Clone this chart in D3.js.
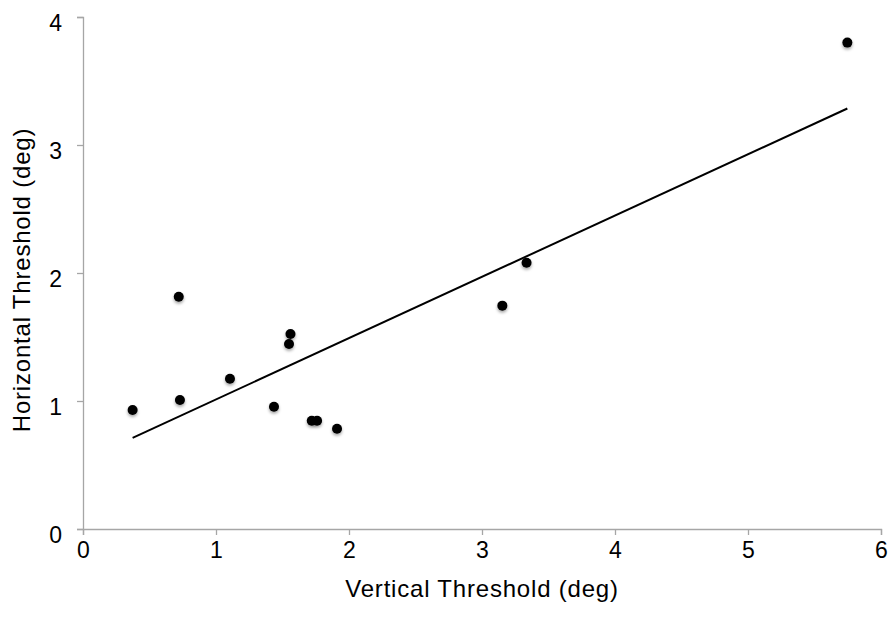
<!DOCTYPE html>
<html lang="en">
<head>
<meta charset="UTF-8">
<title>Thresholds</title>
<script src="https://cdnjs.cloudflare.com/ajax/libs/d3/7.8.5/d3.min.js"></script>
<style>
  body { margin: 0; background: #fff; }
  text { font-family: "Liberation Sans", Arial, sans-serif; fill: #000; }
</style>
</head>
<body>
<div id="chart"></div>
<script>
// data
var vertical   = [0.373, 0.729, 0.72, 1.105, 1.436, 1.56, 1.549, 1.72, 1.76, 1.91, 3.153, 3.335, 5.747];
var horizontal = [0.93, 1.008, 1.815, 1.174, 0.955, 1.523, 1.445, 0.846, 0.846, 0.783, 1.745, 2.08, 3.80];
var xTicks = [0, 1, 2, 3, 4, 5, 6];
var yTicks = [0, 1, 2, 3, 4];

var w = 896, h = 622;
// plot box (note: "top" is taken by window.top, so use other names)
var mLeft = 83, mRight = 881, mTop = 17, mBottom = 529;

var svg = d3.select("#chart").append("svg")
    .attr("width", w)
    .attr("height", h);

var x = d3.scaleLinear().domain([0, 6]).range([mLeft, mRight]);
var y = d3.scaleLinear().domain([0, 4]).range([mBottom, mTop]);

// soft shadow under the dots
var f = svg.append("defs").append("filter").attr("id", "shadow")
    .attr("x", "-50%").attr("y", "-50%").attr("width", "200%").attr("height", "200%");
f.append("feDropShadow").attr("dx", 0).attr("dy", 2).attr("stdDeviation", 1.5)
    .attr("flood-color", "#000").attr("flood-opacity", 0.35);

// axes
var xAxis = svg.append("g")
    .attr("transform", "translate(0," + mBottom + ")")
    .call(d3.axisBottom(x).tickValues(xTicks).tickSize(6).tickPadding(7).tickFormat(d3.format("d")));
var yAxis = svg.append("g")
    .attr("transform", "translate(" + mLeft + ",0)")
    .call(d3.axisLeft(y).tickValues(yTicks).tickSize(6).tickPadding(15).tickFormat(d3.format("d")));

[xAxis, yAxis].forEach(function(a) {
    a.attr("font-size", 23).attr("font-family", "Liberation Sans, Arial, sans-serif");
    a.select(".domain").attr("stroke", "#a6a6a6").attr("stroke-width", 1.3);
    a.selectAll(".tick line").attr("stroke", "#a6a6a6").attr("stroke-width", 1.3);
    a.selectAll(".tick text").attr("fill", "#000");
});
yAxis.selectAll(".tick text").attr("dy", "0.6em");

// least squares trend line
var pts = vertical.map(function(v, i) { return [v, horizontal[i]]; });
var mx = d3.mean(vertical), my = d3.mean(horizontal);
var sxy = d3.sum(pts, function(p) { return (p[0] - mx) * (p[1] - my); });
var sxx = d3.sum(pts, function(p) { return (p[0] - mx) * (p[0] - mx); });
var slope = sxy / sxx, icpt = my - slope * mx;
var ext = d3.extent(vertical);

svg.append("line")
    .attr("x1", x(ext[0])).attr("y1", y(icpt + slope * ext[0]))
    .attr("x2", x(ext[1])).attr("y2", y(icpt + slope * ext[1]))
    .attr("stroke", "#000").attr("stroke-width", 2);

// points
svg.selectAll("circle.pt")
    .data(pts)
    .enter().append("circle")
    .attr("class", "pt")
    .attr("cx", function(d) { return x(d[0]); })
    .attr("cy", function(d) { return y(d[1]); })
    .attr("r", 5)
    .attr("fill", "#000")
    .attr("filter", "url(#shadow)");

// titles
svg.append("text")
    .attr("x", (mLeft + mRight) / 2)
    .attr("y", 597)
    .attr("text-anchor", "middle")
    .attr("font-size", "24px")
    .attr("letter-spacing", "0.8px")
    .text("Vertical Threshold (deg)");

svg.append("text")
    .attr("transform", "translate(30,280) rotate(-90)")
    .attr("text-anchor", "middle")
    .attr("font-size", "24px")
    .attr("letter-spacing", "0.8px")
    .text("Horizontal Threshold (deg)");
</script>
</body>
</html>
